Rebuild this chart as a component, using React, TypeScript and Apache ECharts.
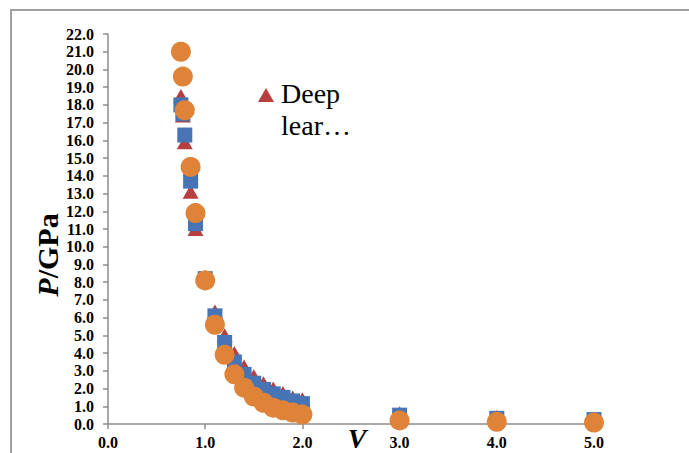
import React, { useEffect, useRef } from "react";
import * as echarts from "echarts";

const V = [0.75, 0.77, 0.79, 0.85, 0.9, 1.0, 1.1, 1.2, 1.3, 1.4, 1.5, 1.6, 1.7, 1.8, 1.9, 2.0, 3.0, 4.0, 5.0];
const deepLearning = [18.5, 17.4, 15.9, 13.1, 11.0, 8.3, 6.35, 5.0, 4.0, 3.25, 2.7, 2.3, 2.0, 1.75, 1.5, 1.4, 0.6, 0.4, 0.25];
const seriesBlue = [18.0, 17.5, 16.3, 13.7, 11.3, 8.2, 6.1, 4.6, 3.5, 2.8, 2.3, 1.95, 1.7, 1.5, 1.3, 1.15, 0.5, 0.32, 0.25];
const seriesOrange = [21.0, 19.6, 17.7, 14.5, 11.9, 8.1, 5.6, 3.9, 2.8, 2.05, 1.55, 1.2, 0.92, 0.77, 0.65, 0.53, 0.2, 0.12, 0.08];

const FONT = "Liberation Serif";

const pairs = (ys: number[]) => V.map((v, i) => [v, ys[i]]);

export default function App() {
  const ref = useRef<HTMLDivElement>(null);
  useEffect(() => {
    if (!ref.current) return;
    const chart = echarts.init(ref.current, undefined, { renderer: "svg" });
    const axisLabel = {
      fontFamily: FONT,
      fontWeight: "bold" as const,
      fontSize: 16,
      color: "#000",
      formatter: (v: number) => v.toFixed(1),
    };
    chart.setOption({
      animation: false,
      backgroundColor: "#fff",
      grid: { left: 108, right: 95, top: 34, bottom: 29, containLabel: false },
      xAxis: {
        type: "value",
        min: 0,
        max: 5,
        interval: 1,
        splitLine: { show: false },
        axisLine: { onZero: false, lineStyle: { color: "#8c8c8c", width: 1.5 } },
        axisTick: { show: true, inside: false, length: 5, lineStyle: { color: "#8c8c8c", width: 1.5 } },
        axisLabel: { ...axisLabel, margin: 10 },
      },
      yAxis: {
        type: "value",
        min: 0,
        max: 22,
        interval: 1,
        splitLine: { show: false },
        axisLine: { show: true, lineStyle: { color: "#8c8c8c", width: 1.5 } },
        axisTick: { show: true, inside: false, length: 5, lineStyle: { color: "#8c8c8c", width: 1.5 } },
        axisLabel: { ...axisLabel, margin: 14 },
      },
      graphic: [
        {
          type: "rect",
          z: -10,
          silent: true,
          shape: { x: 11, y: 10, width: 800, height: 600 },
          style: { fill: "none", stroke: "#a0a0a0", lineWidth: 2 },
        },
        {
          type: "text",
          x: 47,
          y: 255,
          rotation: Math.PI / 2,
          style: {
            text: "{i|P}{n|/GPa}",
            align: "center",
            verticalAlign: "middle",
            rich: {
              i: { fontFamily: FONT, fontSize: 30, fontWeight: "bold", fontStyle: "italic", fill: "#000" },
              n: { fontFamily: FONT, fontSize: 30, fontWeight: "bold", fill: "#000" },
            },
          },
        },
        {
          type: "text",
          x: 357,
          y: 438,
          style: {
            text: "V",
            align: "center",
            verticalAlign: "middle",
            fontFamily: FONT,
            fontSize: 28,
            fontWeight: "bold",
            fontStyle: "italic",
            fill: "#000",
          },
        },
        {
          type: "polygon",
          shape: { points: [[258, 102], [274, 102], [266, 88]] },
          style: { fill: "#B5403F" },
        },
        {
          type: "text",
          x: 281,
          y: 77,
          style: {
            text: "Deep\nlear…",
            align: "left",
            verticalAlign: "top",
            lineHeight: 32,
            fontFamily: FONT,
            fontSize: 28,
            fill: "#000",
          },
        },
      ],
      series: [
        {
          name: "Deep learning",
          type: "scatter",
          symbol: "triangle",
          symbolSize: [16, 14],
          itemStyle: { color: "#B5403F", opacity: 1 },
          data: pairs(deepLearning),
        },
        {
          name: "Series 2",
          type: "scatter",
          symbol: "rect",
          symbolSize: 15,
          itemStyle: { color: "#4674B4", opacity: 1 },
          data: pairs(seriesBlue),
        },
        {
          name: "Series 3",
          type: "scatter",
          symbol: "circle",
          symbolSize: 20,
          itemStyle: { color: "#DE8337", opacity: 1 },
          data: pairs(seriesOrange),
        },
      ],
    });
    return () => chart.dispose();
  }, []);
  return (
    <div
      ref={ref}
      style={{ position: "absolute", left: 0, top: 0, width: 689, height: 453 }}
    />
  );
}
